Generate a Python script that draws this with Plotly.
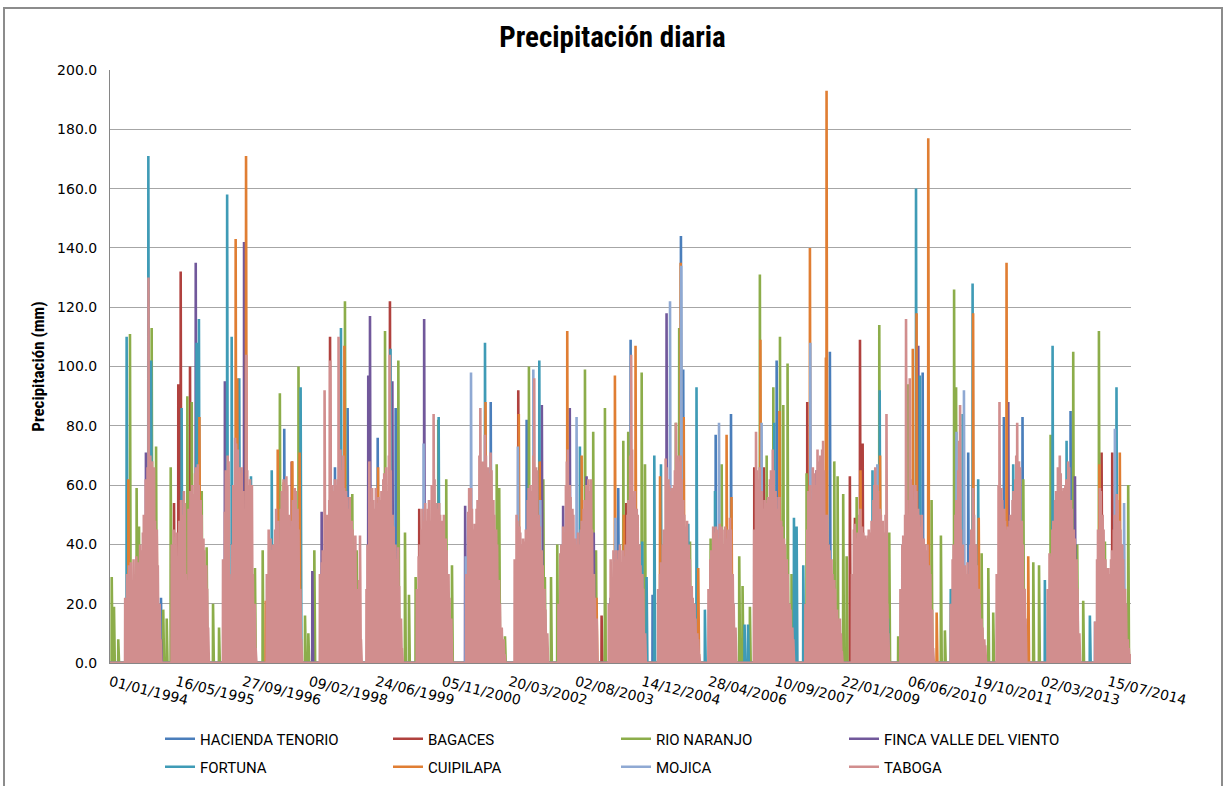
import pandas as pd
import plotly.graph_objects as go

# Station names (legend order) and their line colours
STATIONS = ["HACIENDA TENORIO", "BAGACES", "RIO NARANJO", "FINCA VALLE DEL VIENTO",
            "FORTUNA", "CUIPILAPA", "MOJICA", "TABOGA"]
COLORS = ["#4a7ebb", "#b0413e", "#8cad4a", "#71589b",
          "#3f9bb6", "#e07e33", "#8fa9d3", "#d18e8e"]

# Category-axis labels (every 500 days)
TICK_LABELS = ["01/01/1994", "16/05/1995", "27/09/1996", "09/02/1998", "24/06/1999",
               "05/11/2000", "20/03/2002", "02/08/2003", "14/12/2004", "28/04/2006",
               "10/09/2007", "22/01/2009", "06/06/2010", "19/10/2011", "02/03/2013",
               "15/07/2014"]

FIRST_DAY = "1994-01-01"
LAST_DAY = "2014-12-31"

# Rain days (date, mm); every other day of the record is dry (0 mm)
HACIENDA_TENORIO = [
    ("1995-01-19", 22), ("1997-08-02", 79), ("1998-08-18", 66), ("1998-11-21", 86),
    ("1999-07-05", 76), ("1999-11-17", 86), ("2001-10-31", 88), ("2002-07-28", 82),
    ("2004-06-15", 59), ("2004-09-16", 109), ("2005-02-28", 23), ("2005-09-29", 144),
    ("2005-10-16", 99), ("2006-06-17", 77), ("2006-10-10", 84), ("2007-09-18", 102),
    ("2008-07-26", 58), ("2008-10-22", 105), ("2010-09-19", 98), ("2011-08-27", 71),
    ("2012-05-21", 83), ("2012-10-08", 83), ("2013-10-04", 85),
]

BAGACES = [
    ("1994-08-27", 34), ("1995-04-27", 54), ("1995-05-29", 94), ("1995-06-16", 132),
    ("1995-08-25", 100), ("1997-09-27", 68), ("1998-07-12", 110), ("1999-10-05", 122),
    ("2000-05-12", 52), ("2002-05-26", 92), ("2004-02-11", 16), ("2004-08-14", 54),
    ("2007-04-03", 66), ("2007-06-14", 66), ("2008-05-05", 88), ("2009-03-21", 63),
    ("2009-04-28", 49), ("2009-06-05", 109), ("2009-06-25", 74), ("2014-05-25", 71),
    ("2014-08-13", 71),
]

RIO_NARANJO = [
    ("1994-01-14", 29), ("1994-01-31", 19), ("1994-03-04", 8), ("1994-05-31", 111),
    ("1994-07-20", 59), ("1994-08-07", 46), ("1994-11-10", 113), ("1994-12-13", 73),
    ("1995-02-05", 18), ("1995-03-03", 15), ("1995-04-02", 66), ("1995-08-05", 90),
    ("1995-09-07", 88), ("1995-11-21", 58), ("1995-12-28", 39), ("1996-02-14", 20),
    ("1996-03-30", 12), ("1996-10-08", 91), ("1996-12-25", 32), ("1997-02-21", 38),
    ("1997-06-30", 91), ("1997-11-17", 100), ("1998-01-05", 16), ("1998-01-30", 10),
    ("1998-03-16", 38), ("1998-11-01", 122), ("1998-12-26", 57), ("1999-01-28", 38),
    ("1999-08-29", 112), ("1999-12-07", 102), ("2000-01-26", 44), ("2000-02-25", 23),
    ("2000-04-15", 29), ("2000-10-02", 82), ("2000-12-01", 62), ("2001-01-13", 33),
    ("2001-12-15", 67), ("2002-01-03", 59), ("2002-02-15", 9), ("2002-08-14", 100),
    ("2002-11-30", 62), ("2002-12-12", 29), ("2003-01-27", 29), ("2003-03-15", 40),
    ("2003-10-09", 99), ("2003-12-10", 78), ("2003-12-31", 38), ("2004-03-07", 86),
    ("2004-07-23", 75), ("2004-08-29", 78), ("2004-12-08", 98), ("2005-01-02", 67),
    ("2005-08-22", 81), ("2005-09-16", 113), ("2005-12-06", 41), ("2006-05-10", 42),
    ("2006-08-01", 67), ("2006-12-11", 36), ("2007-01-05", 26), ("2007-03-01", 19),
    ("2007-05-15", 131), ("2007-07-05", 70), ("2007-08-24", 93), ("2007-10-13", 110),
    ("2007-11-07", 87), ("2007-12-09", 101), ("2008-01-08", 30), ("2008-04-30", 64),
    ("2008-11-24", 68), ("2008-12-19", 63), ("2009-01-30", 57), ("2009-02-25", 36),
    ("2009-05-11", 56), ("2009-10-28", 114), ("2009-11-27", 28), ("2010-01-11", 44),
    ("2010-03-19", 9), ("2010-06-02", 94), ("2010-11-25", 55), ("2011-02-03", 43),
    ("2011-03-05", 11), ("2011-05-13", 126), ("2011-05-28", 93), ("2011-12-06", 37),
    ("2012-01-25", 32), ("2012-03-02", 17), ("2012-10-14", 62), ("2012-12-28", 34),
    ("2013-02-09", 33), ("2013-05-07", 77), ("2013-10-24", 105), ("2013-11-23", 40),
    ("2014-01-07", 21), ("2014-05-05", 112), ("2014-06-19", 41), ("2014-12-11", 60),
]

FINCA_VALLE_DEL_VIENTO = [
    ("1994-09-28", 71), ("1995-01-19", 8), ("1995-10-07", 135), ("1996-05-13", 95),
    ("1996-10-04", 142), ("1998-03-01", 31), ("1998-05-10", 51), ("1999-04-25", 97),
    ("1999-05-08", 117), ("1999-10-23", 95), ("2000-06-18", 116), ("2001-04-22", 53),
    ("2002-11-19", 87), ("2003-04-28", 53), ("2003-06-17", 86), ("2003-10-21", 63),
    ("2003-12-14", 44), ("2004-04-18", 22), ("2005-06-13", 118), ("2008-07-13", 65),
    ("2010-08-17", 107), ("2012-06-23", 88), ("2013-06-21", 58), ("2013-11-06", 63),
]

FORTUNA = [
    ("1994-05-06", 110), ("1994-10-16", 171), ("1994-11-06", 102), ("1995-06-23", 86),
    ("1995-10-13", 108), ("1995-10-31", 116), ("1996-05-30", 158), ("1996-07-03", 110),
    ("1996-08-29", 96), ("1996-11-25", 63), ("1997-04-30", 65), ("1997-12-03", 93),
    ("1998-10-02", 113), ("1999-10-09", 106), ("2000-10-05", 83), ("2001-09-18", 108),
    ("2002-10-31", 102), ("2003-09-01", 73), ("2004-12-12", 41), ("2005-01-14", 29),
    ("2005-03-13", 70), ("2005-05-02", 67), ("2005-11-23", 47), ("2006-01-24", 93),
    ("2006-03-28", 18), ("2006-06-12", 58), ("2007-01-20", 13), ("2007-02-15", 13),
    ("2007-08-31", 81), ("2008-01-26", 49), ("2008-02-15", 46), ("2008-04-05", 33),
    ("2009-09-07", 65), ("2009-10-31", 92), ("2010-01-01", 15), ("2010-07-31", 160),
    ("2010-08-29", 97), ("2011-04-18", 25), ("2011-07-16", 84), ("2011-09-29", 128),
    ("2011-11-10", 62), ("2012-07-30", 67), ("2013-03-25", 28), ("2013-05-22", 107),
    ("2013-09-04", 75), ("2014-02-26", 16), ("2014-09-14", 93),
]

CUIPILAPA = [
    ("1994-05-19", 62), ("1994-12-18", 43), ("1995-11-04", 83), ("1996-08-02", 143),
    ("1996-08-14", 96), ("1996-10-19", 171), ("1997-03-16", 21), ("1997-06-14", 72),
    ("1997-07-29", 61), ("1997-10-02", 68), ("1997-11-25", 71), ("1998-10-28", 107),
    ("1999-07-08", 66), ("2001-09-22", 88), ("2002-05-30", 84), ("2002-11-03", 68),
    ("2003-05-29", 112), ("2003-09-14", 70), ("2004-01-04", 22), ("2004-05-21", 97),
    ("2004-07-27", 50), ("2004-10-23", 107), ("2005-04-25", 63), ("2005-09-27", 135),
    ("2005-10-20", 83), ("2006-02-06", 32), ("2006-09-07", 77), ("2006-10-14", 56),
    ("2007-05-19", 109), ("2007-10-09", 85), ("2008-05-25", 140), ("2008-09-22", 103),
    ("2008-09-27", 193), ("2009-06-09", 65), ("2009-11-03", 70), ("2010-07-07", 106),
    ("2010-08-04", 118), ("2010-10-31", 177), ("2011-01-02", 17), ("2011-10-03", 118),
    ("2011-11-14", 49), ("2012-06-10", 135), ("2012-11-20", 36), ("2013-06-25", 45),
    ("2014-05-08", 67), ("2014-10-09", 71),
]

MOJICA = [
    ("1999-08-15", 58), ("2000-06-14", 74), ("2001-04-26", 36), ("2001-06-05", 98),
    ("2002-05-23", 73), ("2002-09-16", 99), ("2002-11-08", 55), ("2003-08-07", 83),
    ("2004-05-25", 49), ("2005-07-09", 122), ("2005-10-01", 134), ("2006-07-12", 81),
    ("2007-05-28", 81), ("2008-05-28", 108), ("2009-10-13", 67), ("2011-05-31", 78),
    ("2011-07-26", 92), ("2014-04-05", 14), ("2014-09-02", 79), ("2014-11-10", 54),
]

# Taboga: one reading per week through each rainy season (first date, weekly mm)
TABOGA_SEASONS = [
    ("1994-04-25", [22, 10, 30, 18, 33, 8, 34, 20, 26, 35, 15, 28, 36, 22, 34, 12, 40, 38,
                    20, 44, 50, 30, 62, 45, 66, 130, 40, 70, 52, 68, 30, 66, 48, 25, 45, 33,
                    12, 20, 8]),
    ("1995-04-10", [40, 20, 45, 30, 38, 44, 15, 36, 48, 30, 55, 50, 25, 58, 54, 30, 8, 28,
                    52, 35, 58, 40, 60, 57, 30, 64, 66, 45, 67, 60, 28, 55, 50, 20, 42, 38,
                    15, 33, 25, 12]),
    ("1996-04-29", [35, 15, 51, 65, 40, 70, 68, 30, 12, 28, 40, 60, 45, 76, 74, 50, 72, 66,
                    35, 64, 66, 40, 58, 52, 30, 104, 65, 35, 60, 62, 25, 60, 30, 10, 20, 5]),
    ("1997-03-24", [30, 12, 45, 30, 42, 20, 38, 40, 18, 45, 52, 30, 48, 40, 22, 52, 58, 35,
                    62, 58, 30, 63, 60, 40, 50, 46, 20, 48, 55, 30, 59, 58, 35, 52, 45, 20,
                    25, 8]),
    ("1998-04-27", [30, 12, 34, 38, 20, 92, 45, 25, 50, 40, 55, 102, 30, 60, 58, 35, 62, 60,
                    40, 62, 110, 45, 72, 65, 30, 70, 59, 40, 58, 56, 25, 52, 56, 30, 48, 45,
                    20, 30, 43, 15, 25, 10, 28, 43, 8]),
    ("1999-04-12", [25, 40, 15, 68, 50, 30, 59, 55, 25, 52, 59, 35, 54, 56, 20, 55, 58, 40,
                    62, 64, 30, 66, 58, 45, 70, 104, 65, 30, 50, 46, 20, 40, 35, 12, 39, 26,
                    10, 15, 5]),
    ("2000-04-24", [25, 10, 36, 40, 18, 45, 52, 30, 48, 54, 25, 48, 52, 55, 30, 48, 60, 40,
                    84, 62, 30, 54, 52, 35, 54, 50, 25, 48, 45, 50, 20, 42, 38, 15, 30, 22,
                    8, 15]),
    ("2001-05-01", [30, 15, 51, 59, 35, 59, 52, 25, 45, 47, 30, 52, 55, 20, 70, 86, 45, 65,
                    68, 35, 77, 70, 40, 66, 64, 30, 71, 65, 35, 55, 50, 20, 45, 40, 12, 28,
                    20, 8, 12, 5, 8, 3]),
    ("2002-04-29", [35, 15, 50, 48, 25, 46, 44, 20, 40, 42, 15, 41, 45, 30, 55, 59, 35, 60,
                    58, 40, 70, 96, 45, 66, 65, 30, 50, 46, 20, 38, 33, 12, 25, 18, 5, 10]),
    ("2003-03-24", [20, 8, 37, 40, 20, 46, 44, 25, 60, 68, 72, 40, 60, 56, 30, 52, 50, 20,
                    42, 40, 15, 44, 40, 25, 45, 48, 30, 52, 55, 35, 60, 40, 62, 58, 30, 62,
                    45, 20, 30, 22, 8, 15]),
    ("2004-04-05", [20, 8, 35, 28, 12, 38, 34, 18, 38, 35, 20, 38, 40, 15, 34, 38, 20, 36,
                    40, 25, 50, 55, 35, 70, 104, 72, 40, 56, 58, 30, 52, 50, 25, 40, 33, 12,
                    30, 25, 8, 10]),
    ("2005-04-11", [25, 10, 30, 34, 15, 40, 45, 25, 69, 66, 40, 62, 60, 30, 58, 59, 35, 60,
                    65, 81, 45, 70, 68, 35, 70, 62, 40, 55, 50, 25, 46, 48, 20, 40, 35, 12,
                    26, 22, 8, 20, 15, 5, 10, 8, 3]),
    ("2006-04-24", [25, 10, 35, 38, 15, 46, 44, 20, 46, 45, 22, 42, 47, 25, 46, 45, 18, 40,
                    46, 25, 42, 45, 30, 49, 45, 20, 30, 20, 6, 12]),
    ("2007-04-02", [45, 20, 78, 65, 35, 62, 66, 30, 58, 55, 25, 52, 55, 30, 54, 56, 35, 62,
                    65, 40, 72, 65, 30, 58, 56, 25, 52, 56, 30, 48, 46, 20, 42, 40, 15, 35,
                    30, 10, 20, 18, 5, 12, 8]),
    ("2008-04-21", [20, 8, 45, 58, 30, 60, 55, 25, 66, 64, 35, 60, 65, 72, 40, 68, 70, 45,
                    72, 75, 65, 35, 46, 50, 20, 40, 38, 15, 35, 30, 10, 28, 25, 8, 18, 14,
                    5, 15, 10, 4]),
    ("2009-04-06", [30, 12, 45, 47, 20, 42, 44, 25, 50, 52, 20, 46, 44, 25, 43, 42, 18, 43,
                    45, 22, 44, 48, 30, 55, 60, 66, 40, 60, 58, 30, 52, 50, 25, 48, 44, 15,
                    50, 84, 20, 10]),
    ("2010-04-05", [25, 10, 40, 43, 20, 50, 116, 55, 30, 50, 96, 62, 35, 60, 55, 30, 60, 58,
                    25, 52, 50, 30, 46, 50, 20, 42, 40, 15, 38, 40, 12, 33, 30, 8, 18, 5]),
    ("2011-04-18", [20, 8, 35, 40, 20, 50, 55, 30, 65, 75, 87, 45, 30, 40, 15, 33, 30, 12,
                    34, 30, 15, 40, 45, 30, 59, 50, 20, 40, 33, 10, 25, 20, 8, 15, 12, 4,
                    8, 6]),
    ("2012-03-28", [30, 12, 60, 88, 35, 59, 55, 25, 52, 48, 20, 45, 46, 22, 48, 50, 30, 55,
                    58, 35, 62, 70, 81, 40, 68, 66, 30, 48, 40, 12, 25, 15]),
    ("2013-04-15", [25, 10, 37, 36, 15, 45, 48, 25, 55, 58, 30, 66, 45, 70, 64, 30, 58, 59,
                    35, 60, 62, 40, 68, 66, 30, 55, 52, 20, 45, 42, 15, 35, 25, 8, 10]),
    ("2014-04-07", [14, 5, 35, 45, 20, 59, 58, 30, 50, 45, 18, 35, 32, 12, 32, 30, 15, 35,
                    38, 20, 45, 50, 30, 57, 55, 25, 48, 45, 20, 40, 35, 12, 25, 20, 5, 8,
                    5, 3]),
]

DAYS = pd.date_range(FIRST_DAY, LAST_DAY, freq="D")


def daily_series(events):
    """Full daily record: listed rain days, 0 mm on every other day."""
    s = pd.Series(0.0, index=DAYS)
    for day, mm in events:
        s[pd.Timestamp(day)] = mm
    return s


taboga_events = []
for start, weekly in TABOGA_SEASONS:
    first = pd.Timestamp(start)
    for k, mm in enumerate(weekly):
        taboga_events.append((first + pd.Timedelta(days=7 * k), mm))

series = [HACIENDA_TENORIO, BAGACES, RIO_NARANJO, FINCA_VALLE_DEL_VIENTO,
          FORTUNA, CUIPILAPA, MOJICA, taboga_events]

fig = go.Figure()
for i, (name, color, events) in enumerate(zip(STATIONS, COLORS, series)):
    s = daily_series(events)
    fig.add_trace(go.Scatter(
        x=s.index, y=s.values, name=name, mode="lines",
        line=dict(color=color, width=2.6),
        legend="legend" if i < 4 else "legend2",
        hoverinfo="skip",
    ))

tick_dates = pd.to_datetime(TICK_LABELS, format="%d/%m/%Y")

NARROW = "Liberation Sans Narrow, Arial Narrow, Roboto Condensed, Roboto, sans-serif"


def legend_row(y_px):
    return dict(orientation="h", x=160 / 1225, xref="container", xanchor="left",
                y=1 - y_px / 786, yref="container", yanchor="middle",
                entrywidth=183, entrywidthmode="pixels", tracegroupgap=0,
                font=dict(family="Roboto, sans-serif", size=15, color="black"),
                bgcolor="rgba(0,0,0,0)")


fig.update_layout(
    width=1225, height=786,
    paper_bgcolor="white", plot_bgcolor="white",
    margin=dict(l=110, r=94, t=70, b=123, autoexpand=False),
    title=dict(text="Precipitación diaria", x=0.5, xref="container", xanchor="center",
               y=1 - 37 / 786, yref="container", yanchor="middle",
               font=dict(family=NARROW, size=29, color="black", weight="bold")),
    showlegend=True,
    legend=legend_row(739),
    legend2=legend_row(767),
    xaxis=dict(
        type="date", range=[FIRST_DAY, "2015-01-01"],
        tickmode="array", tickvals=tick_dates, ticktext=TICK_LABELS,
        tickangle=14, showgrid=False, zeroline=False,
        showline=True, linecolor="#868686", linewidth=1,
        tickfont=dict(family="DejaVu Sans", size=14, color="black"),
        ticks="", ticklabelstandoff=5,
    ),
    yaxis=dict(
        range=[0, 200], dtick=20, tickformat=".1f",
        showgrid=True, gridcolor="#a6a6a6", gridwidth=1, zeroline=False,
        showline=True, linecolor="#868686", linewidth=1,
        tickfont=dict(family="DejaVu Sans", size=14, color="black"),
        ticks="", ticklabelstandoff=9,
        title=dict(text="Precipitación (mm)", standoff=8,
                   font=dict(family=NARROW, size=17, color="black", weight="bold")),
    ),
    shapes=[dict(type="rect", xref="paper", yref="paper",
                 x0=(4 - 110) / 1021, x1=(1222 - 110) / 1021,
                 y0=(663 - 800) / 593, y1=(663 - 8) / 593,
                 line=dict(color="#8c8c8c", width=2), fillcolor="rgba(0,0,0,0)",
                 layer="below")],
)

fig.write_html("out.html")
